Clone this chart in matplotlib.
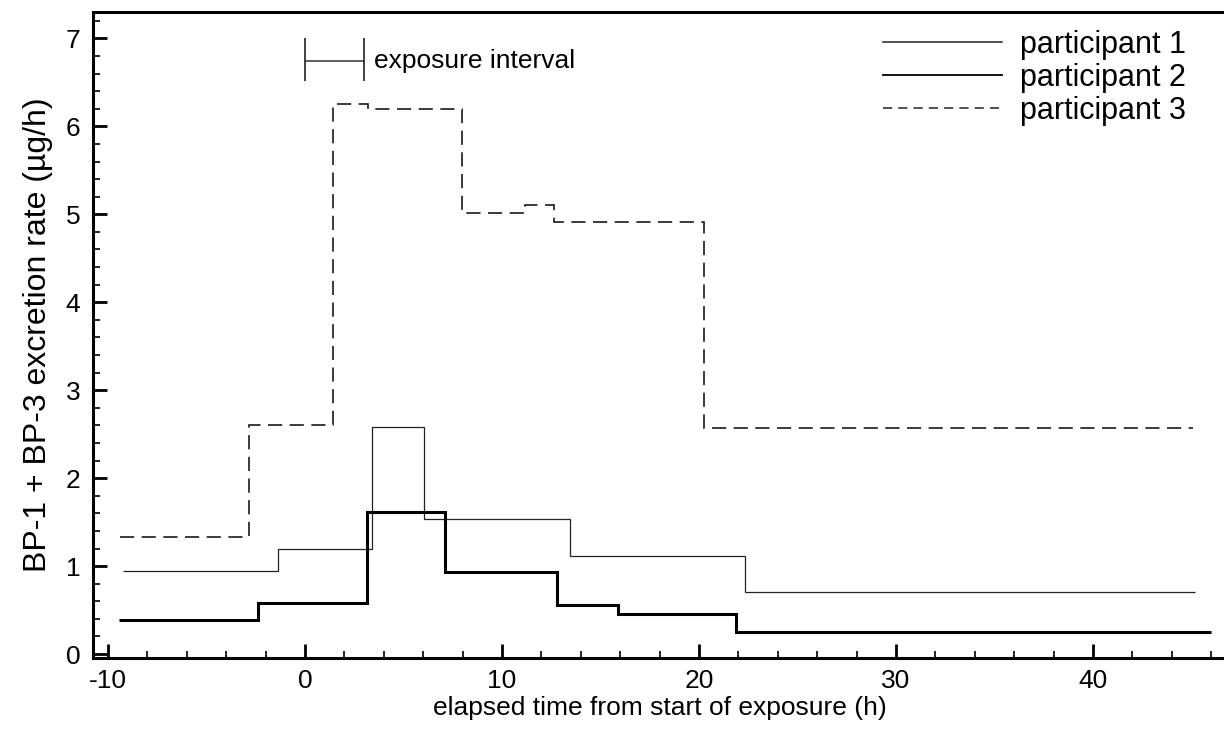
import matplotlib
matplotlib.use("Agg")
import matplotlib.pyplot as plt
from matplotlib.lines import Line2D
from matplotlib.ticker import MultipleLocator

plt.rcParams["font.family"] = ["Liberation Sans", "DejaVu Sans"]

# step boundaries (h) and excretion rates (ug/h)
p1_edges = [-9.22, -1.37, 3.38, 6.03, 13.45, 22.33, 45.2]
p1_rates = [0.94, 1.19, 2.58, 1.53, 1.11, 0.70]

p2_edges = [-9.42, -2.39, 3.13, 7.12, 12.78, 15.9, 21.88, 45.97]
p2_rates = [0.39, 0.58, 1.61, 0.93, 0.56, 0.46, 0.25]

p3_edges = [-9.38, -2.83, 1.43, 3.2, 7.97, 11.17, 12.64, 20.26, 45.1]
p3_rates = [1.33, 2.60, 6.25, 6.20, 5.02, 5.11, 4.91, 2.57]

labels = ["participant 1", "participant 2", "participant 3"]

exposure = [0, 3]
exposure_y = 6.74
cap_lo, cap_hi = 6.51, 7.0

W, H = 1224, 731
fig = plt.figure(figsize=(W / 100, H / 100), dpi=100)
ax = fig.add_axes([93 / W, (H - 658) / H, (1226 - 93) / W, (658 - 12) / H])

ax.stairs(p1_rates, p1_edges, color="#222222", lw=0.9, baseline=None)
ax.stairs(p2_rates, p2_edges, color="black", lw=2.2, baseline=None)
ax.stairs(p3_rates, p3_edges, color="#1a1a1a", lw=1.2, baseline=None,
          linestyle=(0, (8.5, 4.5)))

# exposure interval marker
ax.plot(exposure, [exposure_y, exposure_y], color="#333333", lw=1.1)
ax.vlines(exposure, cap_lo, cap_hi, color="#333333", lw=1.3)
ax.text(3.5, exposure_y, "exposure interval", fontsize=19, va="center", ha="left")

ax.set_xlim(-10.76, 46.75)
ax.set_ylim(-0.045, 7.3)
ax.xaxis.set_major_locator(MultipleLocator(10))
ax.xaxis.set_minor_locator(MultipleLocator(2))
ax.yaxis.set_major_locator(MultipleLocator(1))
ax.yaxis.set_minor_locator(MultipleLocator(0.2))
ax.tick_params(which="both", direction="in", top=False, right=False, labelsize=19)
ax.tick_params(axis="x", which="major", length=10, width=2.0, pad=8)
ax.tick_params(axis="y", which="major", length=10, width=2.0, pad=9)
ax.tick_params(which="minor", length=5, width=1.2)
ax.set_xticks(range(-10, 41, 10))
ax.set_xticklabels(["-10", "0", "10", "20", "30", "40"])
for s in ax.spines.values():
    s.set_linewidth(2.2)

ax.set_xlabel("elapsed time from start of exposure (h)", fontsize=19, labelpad=2)
ax.set_ylabel("BP-1 + BP-3 excretion rate (µg/h)", fontsize=23, labelpad=9)

handles = [
    Line2D([], [], color="#222222", lw=1.1),
    Line2D([], [], color="black", lw=1.3),
    Line2D([], [], color="#222222", lw=1.1, linestyle=(0, (6, 4))),
]
ax.legend(handles, labels, loc="upper left", bbox_to_anchor=(883 / W, 1 - 30 / H),
          bbox_transform=fig.transFigure, frameon=False, fontsize=22,
          handlelength=3.9, handletextpad=0.6, labelspacing=0.1, borderpad=0,
          borderaxespad=0)

fig.savefig("out.png", dpi=100)
